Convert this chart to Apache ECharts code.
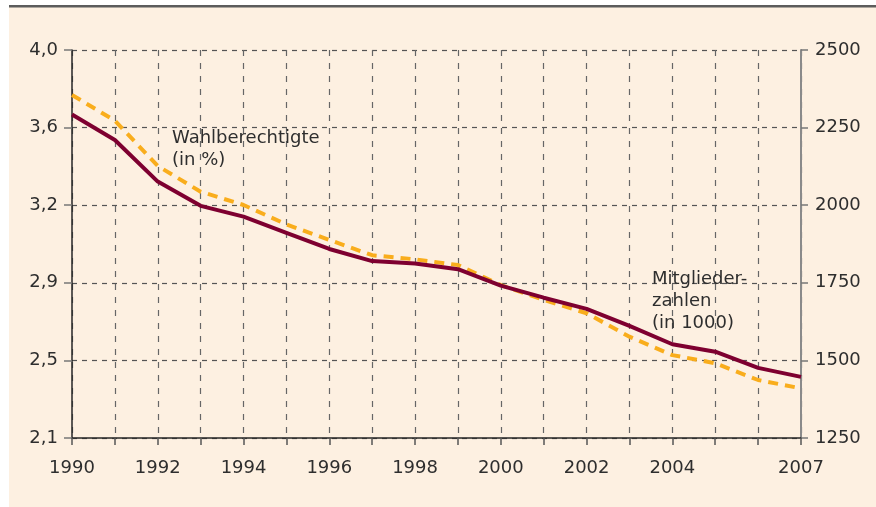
<!DOCTYPE html>
<html>
<head>
<meta charset="utf-8">
<script src="https://cdn.jsdelivr.net/npm/echarts@6/dist/echarts.min.js"></script>
<style>
  html, body { margin: 0; padding: 0; background: #ffffff; }
  #chart { width: 876px; height: 507px; }
</style>
</head>
<body>
<div id="chart"></div>
<script>
// Jahre 1990-2007
const years = [1990, 1991, 1992, 1993, 1994, 1995, 1996, 1997, 1998, 1999,
  2000, 2001, 2002, 2003, 2004, 2005, 2006, 2007]
const yearLabels = [1990, 1992, 1994, 1996, 1998, 2000, 2002, 2004, 2007]

// Mitgliederzahlen (in 1000), rechte Achse
const mitglieder = [2292, 2210, 2076, 1998, 1963, 1911, 1859, 1820, 1812, 1794,
  1741, 1702, 1666, 1611, 1552, 1528, 1476, 1447]
// Wahlberechtigte (in %), linke Achse
const wahlberechtigte = [3.78, 3.654, 3.432, 3.306, 3.241, 3.146, 3.07, 2.995, 2.975, 2.947,
  2.849, 2.776, 2.711, 2.596, 2.506, 2.466, 2.384, 2.343]

const leftMin = 2.1
const leftMax = 4.0
const leftStep = 0.38
const rightMin = 1250
const rightMax = 2500
const rightStep = 250

const font = 'DejaVu Sans'
const textColor = '#2e2e2e'

const chart = echarts.init(document.getElementById('chart'))

const option = {
  animation: false,
  backgroundColor: '#ffffff',
  grid: { left: 72, right: 75, top: 50, bottom: 69, containLabel: false },
  graphic: [
    { type: 'rect', z: -10, shape: { x: 9, y: 7, width: 867, height: 500 }, style: { fill: '#fdf0e1' } },
    { type: 'rect', z: -9, shape: { x: 9, y: 5, width: 867, height: 2.5 }, style: { fill: '#5c5c5c' } },
    {
      type: 'text', left: 172, top: 127, z: 10,
      style: { text: 'Wahlberechtigte\n(in %)', fill: textColor, font: '18px "DejaVu Sans"', lineHeight: 22 }
    },
    {
      type: 'text', left: 652, top: 268, z: 10,
      style: { text: 'Mitglieder-\nzahlen\n(in 1000)', fill: textColor, font: '18px "DejaVu Sans"', lineHeight: 22 }
    }
  ],
  xAxis: {
    type: 'value',
    min: 1990,
    max: 2007,
    interval: 1,
    axisLine: { show: true, lineStyle: { color: '#262626', width: 1.5 } },
    axisTick: { show: true, length: 7, lineStyle: { color: '#555', width: 1.5 } },
    axisLabel: {
      margin: 21,
      color: textColor,
      fontFamily: font,
      fontSize: 18,
      formatter: v => (yearLabels.includes(v) ? String(v) : '')
    },
    splitLine: { show: true, lineStyle: { color: '#666', type: [6, 7], width: 1.2 } }
  },
  yAxis: [
    {
      type: 'value',
      position: 'left',
      min: leftMin,
      max: leftMax,
      interval: leftStep,
      axisLine: { show: true, lineStyle: { color: '#262626', width: 1.5 } },
      axisTick: { show: true, length: 8, lineStyle: { color: '#777', width: 1.5 } },
      axisLabel: {
        margin: 14,
        color: textColor,
        fontFamily: font,
        fontSize: 18,
        formatter: v => v.toFixed(1).replace('.', ',')
      },
      splitLine: { show: true, lineStyle: { color: '#555', type: [5, 5], width: 1.2 } }
    },
    {
      type: 'value',
      position: 'right',
      min: rightMin,
      max: rightMax,
      interval: rightStep,
      axisLine: { show: true, lineStyle: { color: '#8a8a8a', width: 2 } },
      axisTick: { show: true, length: 7, lineStyle: { color: '#777', width: 1.5 } },
      axisLabel: {
        margin: 14,
        color: textColor,
        fontFamily: font,
        fontSize: 18,
        formatter: v => String(v)
      },
      splitLine: { show: false }
    }
  ],
  series: [
    {
      name: 'Wahlberechtigte (in %)',
      type: 'line',
      yAxisIndex: 0,
      data: years.map((y, i) => [y, wahlberechtigte[i]]),
      symbol: 'none',
      z: 3,
      lineStyle: { color: '#f9ad1c', width: 4, type: [10, 7] }
    },
    {
      name: 'Mitgliederzahlen (in 1000)',
      type: 'line',
      yAxisIndex: 1,
      data: years.map((y, i) => [y, mitglieder[i]]),
      symbol: 'none',
      z: 4,
      lineStyle: { color: '#7e0030', width: 4 }
    }
  ]
}

chart.setOption(option)
</script>
</body>
</html>
